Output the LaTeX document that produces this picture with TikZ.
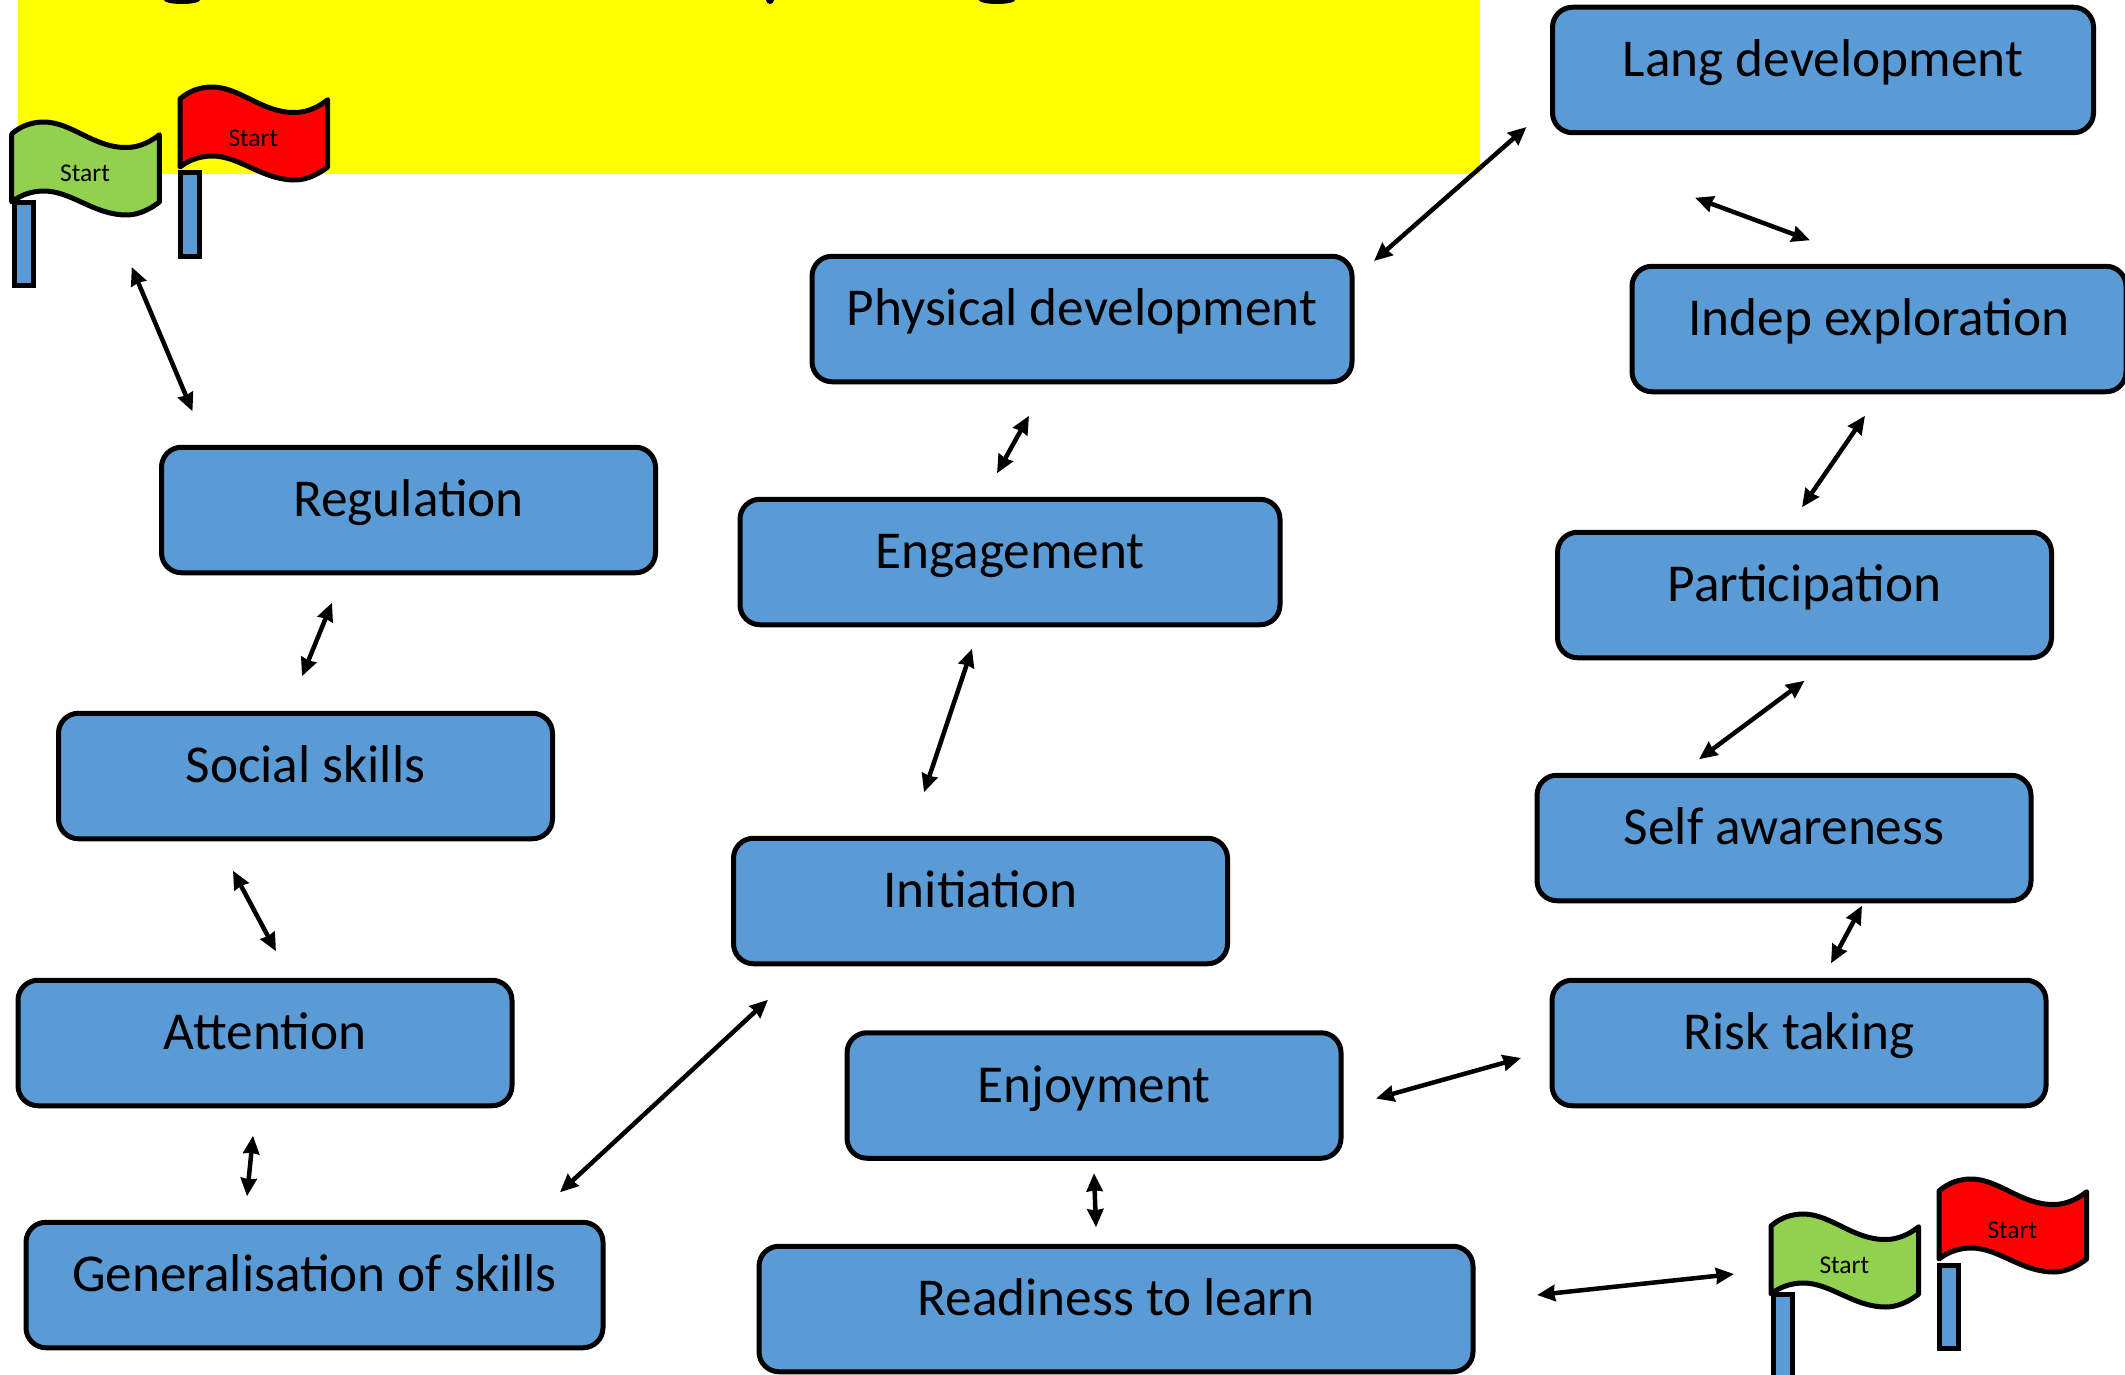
\documentclass[tikz,border=0pt]{standalone}
\usepackage{fontspec}
\setmainfont{Carlito}
\usetikzlibrary{arrows.meta}
\definecolor{boxblue}{HTML}{5B9BD5}
\definecolor{flaggreen}{HTML}{92D050}
\definecolor{flagred}{HTML}{FF0000}
\definecolor{bandyellow}{HTML}{FFFF00}

\begin{document}
\begin{tikzpicture}[x=1pt,y=-1pt]
		\useasboundingbox (0,0) rectangle (2125,1375);
		\clip (0,0) rectangle (2125,1375);
		\tikzstyle{box}=[draw=black,fill=boxblue,line width=5pt,rounded corners=20pt,minimum width=494pt,minimum height=125.5pt,inner sep=0pt,outer sep=0pt,text height=39.5pt,text depth=26pt,font=\fontsize{53.3}{60}\selectfont]
		\tikzstyle{link}=[line width=4.5pt,{Stealth[length=18pt,width=16pt,inset=1pt]}-{Stealth[length=18pt,width=16pt,inset=1pt]}]
		\tikzstyle{flagtext}=[anchor=base,inner sep=0pt,font=\fontsize{25.5}{30}\selectfont]
		% yellow band and what is left of its heading
		\fill[bandyellow] (18,0) rectangle (1480,174);
		\fill (182,0) ellipse (18 and 4);
		\fill (770,0) ellipse (4 and 4);
		\fill (997,0) ellipse (18 and 4);
		% flags
		\foreach \fx/\fy/\fcol/\fname/\px/\py in {11.7/134/flaggreen/flag_a/2.3/68.5,180/99/flagred/flag_b/0/74,1771/1226/flaggreen/flag_c/2.3/68.5,1939/1191/flagred/flag_d/0/74}{
			\coordinate (\fname) at (\fx,\fy);
			\draw[fill=boxblue,line width=5pt] ([shift={(\px,\py)}]\fname) rectangle ([shift={(\px+19.5,\py+83)}]\fname);
			\draw[shift={(\fx,\fy)},fill=\fcol,line width=5pt,line join=round] (0,0) .. controls (10,-9) and (22,-12) .. (32,-12) .. controls (60,-12) and (82,14) .. (115,13.5) .. controls (128,13.5) and (140,7) .. (147.7,0.7) -- (147.7,68) .. controls (140,74) and (128,81) .. (115,81) .. controls (82,81) and (60,57) .. (32,57) .. controls (22,57) and (10,60) .. (0,68) -- cycle;
			\node[flagtext] (\fname_txt) at ([shift={(73.3,47.5)}]\fname) {Start};
		}
		% boxes
		\node[box,minimum width=541pt] (n_lang) at (1823,70) {Lang development};
		\node[box] (n_indep) at (1879,329) {Indep exploration};
		\node[box,minimum width=540pt] (n_phys) at (1082,319) {Physical development};
		\node[box] (n_reg) at (408.5,510) {Regulation};
		\node[box,minimum width=540pt] (n_eng) at (1010,562) {Engagement};
		\node[box] (n_part) at (1804.5,595) {Participation};
		\node[box] (n_soc) at (305.5,776) {Social skills};
		\node[box] (n_self) at (1784,838) {Self awareness};
		\node[box] (n_init) at (980.5,901) {Initiation};
		\node[box] (n_att) at (265,1043) {Attention};
		\node[box] (n_risk) at (1799,1043) {Risk taking};
		\node[box] (n_enj) at (1094,1095.5) {Enjoyment};
		\node[box,minimum width=577pt] (n_gen) at (314.5,1285) {Generalisation of skills};
		\node[box,minimum width=714pt] (n_read) at (1116,1309) {Readiness to learn};
		% arrows
		\draw[link] ([shift={(120,133)}]flag_a) -- ([shift={(-216,-36)}]n_reg.north);
		\draw[link] ([shift={(22,-58)}]n_phys.east) -- ([shift={(-26,57)}]n_lang.west);
		\draw[link] ([shift={(-128,65)}]n_lang.south) -- ([shift={(-69,-26)}]n_indep.north);
		\draw[link] ([shift={(-14,24)}]n_indep.south) -- ([shift={(-2.5,-25)}]n_part.north);
		\draw[link] ([shift={(0,23)}]n_part.south) -- ([shift={(-85,-16)}]n_self.north);
		\draw[link] ([shift={(78,5)}]n_self.south) -- ([shift={(32,-17)}]n_risk.north);
		\draw[link] ([shift={(-31,15)}]n_risk.west) -- ([shift={(35,3)}]n_enj.east);
		\draw[link] ([shift={(0,15)}]n_enj.south) -- ([shift={(-20,-19)}]n_read.north);
		\draw[link] ([shift={(64,-14)}]n_read.east) -- ([shift={(-37,48)}]flag_c);
		\draw[link] ([shift={(-53,34)}]n_phys.south) -- ([shift={(-13,-26)}]n_eng.north);
		\draw[link] ([shift={(-38,24)}]n_eng.south) -- ([shift={(-56.5,-46)}]n_init.north);
		\draw[link] ([shift={(-212.5,36)}]n_init.south) -- ([shift={(245.5,-30)}]n_gen.north);
		\draw[link] ([shift={(-76.5,30)}]n_reg.south) -- ([shift={(-3.5,-37)}]n_soc.north);
		\draw[link] ([shift={(-72.5,32)}]n_soc.south) -- ([shift={(11,-29)}]n_att.north);
		\draw[link] ([shift={(-12,30)}]n_att.south) -- ([shift={(-67.5,-26)}]n_gen.north);
	\end{tikzpicture}
\end{document}
